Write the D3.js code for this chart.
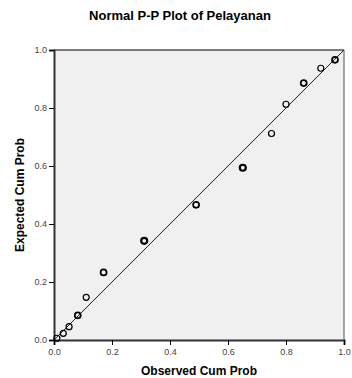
<!DOCTYPE html>
<html>
<head>
<meta charset="utf-8">
<script src="https://cdn.jsdelivr.net/npm/d3@7"></script>
<style>
body { margin: 0; background: #fff; }
text { font-family: Arial, "Liberation Sans", sans-serif; }
</style>
</head>
<body>
<script>
var title = "Normal P-P Plot of Pelayanan";
var xLabel = "Observed Cum Prob";
var yLabel = "Expected Cum Prob";
var ticks = [0, 0.2, 0.4, 0.6, 0.8, 1.0];

// observed vs expected cumulative probability
var observed = [0.010, 0.032, 0.052, 0.082, 0.111, 0.171, 0.311, 0.490, 0.651, 0.750, 0.800, 0.861, 0.920, 0.969];
var expected = [0.006, 0.023, 0.046, 0.085, 0.147, 0.233, 0.342, 0.466, 0.594, 0.712, 0.813, 0.886, 0.937, 0.966];
// how many cases sit on each point (drawn bolder)
var counts = [1, 1, 1, 2, 1, 2, 3, 2, 3, 1, 1, 2, 1, 2];

var width = 352, height = 378;
var plot = { left: 54, top: 50, right: 344, bottom: 340 };

var svg = d3.select("body").append("svg")
	.attr("width", width)
	.attr("height", height);

var x = d3.scaleLinear().domain([0, 1]).range([plot.left, plot.right]);
var y = d3.scaleLinear().domain([0, 1]).range([plot.bottom, plot.top]);

svg.append("text")
	.attr("x", 180).attr("y", 20)
	.attr("text-anchor", "middle")
	.style("font-size", "13px").style("font-weight", "bold")
	.text(title);

// plot background
svg.append("rect")
	.attr("x", plot.left).attr("y", plot.top)
	.attr("width", plot.right - plot.left).attr("height", plot.bottom - plot.top)
	.attr("fill", "#f0f0f0");

svg.append("line")
	.attr("x1", plot.left).attr("x2", plot.right)
	.attr("y1", plot.top).attr("y2", plot.top)
	.attr("stroke", "#000").attr("stroke-width", 1.2);
svg.append("line")
	.attr("x1", plot.right).attr("x2", plot.right)
	.attr("y1", plot.top).attr("y2", plot.bottom)
	.attr("stroke", "#888").attr("stroke-width", 1.5);

// diagonal reference line
svg.append("line")
	.attr("x1", x(0)).attr("y1", y(0))
	.attr("x2", x(1)).attr("y2", y(1))
	.attr("stroke", "#222").attr("stroke-width", 1);

var xAxis = svg.append("g")
	.attr("transform", "translate(0," + plot.bottom + ")")
	.call(d3.axisBottom(x).tickValues(ticks).tickFormat(d3.format(".1f")).tickSize(5).tickPadding(4));
var yAxis = svg.append("g")
	.attr("transform", "translate(" + plot.left + ",0)")
	.call(d3.axisLeft(y).tickValues(ticks).tickFormat(d3.format(".1f")).tickSize(5).tickPadding(2));

[xAxis, yAxis].forEach(function (g) {
	g.select(".domain").attr("stroke", "#333").attr("stroke-width", 2);
	g.selectAll(".tick line").attr("stroke", "#000");
	g.selectAll(".tick text").attr("fill", "#444").style("font-size", "9px")
		.style("font-family", "Arial, 'Liberation Sans', sans-serif");
});

var pts = observed.map(function (o, i) { return { o: o, e: expected[i], n: counts[i] }; });

svg.append("g").selectAll("circle")
	.data(pts)
	.enter().append("circle")
	.attr("cx", function (d) { return x(d.o); })
	.attr("cy", function (d) { return y(d.e); })
	.attr("r", 3)
	.attr("fill", "none")
	.attr("stroke", "#000")
	.attr("stroke-width", function (d) { return d.n > 2 ? 2.2 : (d.n > 1 ? 1.7 : 1.2); });

svg.append("text")
	.attr("x", 199).attr("y", 375)
	.attr("text-anchor", "middle")
	.style("font-size", "12px").style("font-weight", "bold")
	.text(xLabel);

svg.append("text")
	.attr("transform", "translate(24," + y(0.5) + ") rotate(-90)")
	.attr("text-anchor", "middle")
	.style("font-size", "12px").style("font-weight", "bold")
	.text(yLabel);
</script>
</body>
</html>
